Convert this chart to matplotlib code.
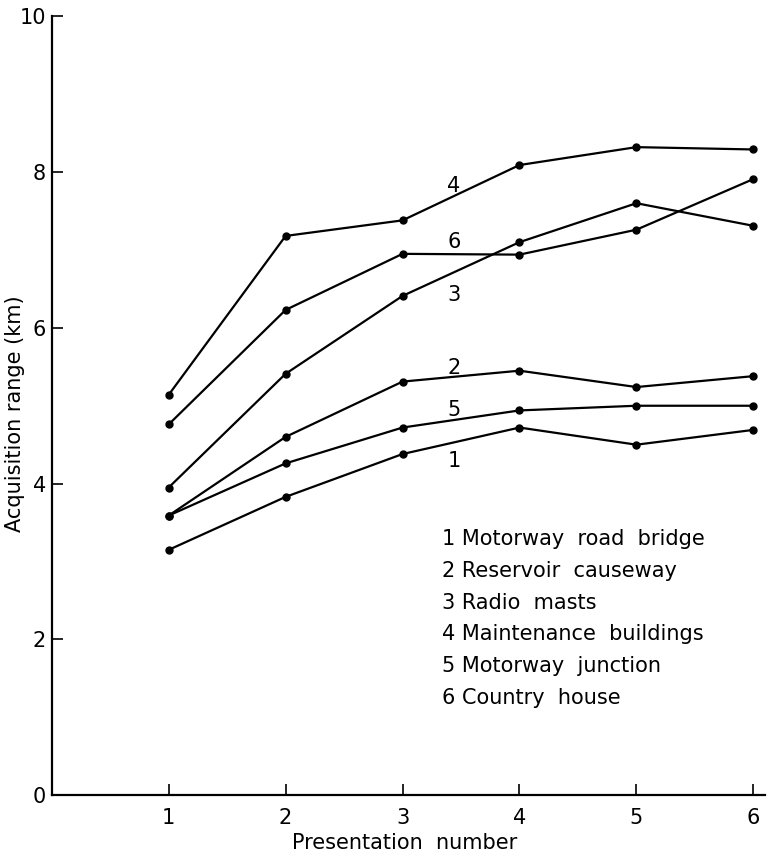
import matplotlib.pyplot as plt

# Acquisition range (km) against presentation number, one series per target
presentation = [1, 2, 3, 4, 5, 6]
motorway_bridge = [3.15, 3.83, 4.38, 4.72, 4.50, 4.69]
reservoir_causeway = [3.59, 4.60, 5.31, 5.45, 5.24, 5.38]
radio_masts = [3.95, 5.41, 6.41, 7.10, 7.60, 7.31]
maintenance_buildings = [5.14, 7.18, 7.38, 8.09, 8.32, 8.29]
motorway_junction = [3.59, 4.26, 4.72, 4.94, 5.00, 5.00]
country_house = [4.76, 6.23, 6.95, 6.94, 7.26, 7.91]

series = [motorway_bridge, reservoir_causeway, radio_masts,
          maintenance_buildings, motorway_junction, country_house]
series_names = ["Motorway  road  bridge", "Reservoir  causeway", "Radio  masts",
                "Maintenance  buildings", "Motorway  junction", "Country  house"]
# where each line's number sits, next to the presentation-3 point
label_pos = [(3.44, 4.29), (3.44, 5.48), (3.44, 6.42),
             (3.44, 7.82), (3.44, 4.94), (3.44, 7.10)]

plt.rcParams["font.family"] = ["DejaVu Sans"]
FS = 15

fig = plt.figure(figsize=(7.72, 8.56), dpi=100)
ax = fig.add_axes([0.067, 0.071, 0.924, 0.910])

for ys in series:
    ax.plot(presentation, ys, color="black", lw=1.6, marker="o", ms=5)

for i, (lx, ly) in enumerate(label_pos):
    ax.text(lx, ly, str(i + 1), ha="center", va="center", fontsize=FS)

# key of target types
for i, name in enumerate(series_names):
    ax.text(3.34, 3.29 - i * 0.408, f"{i + 1} {name}", ha="left",
            va="center", fontsize=FS)

ax.set_xlim(0, 6.1)
ax.set_ylim(0, 10)
ax.set_xticks(presentation)
ax.set_yticks([0, 2, 4, 6, 8, 10])
ax.tick_params(direction="in", length=8, width=1.2, labelsize=FS)
ax.tick_params(axis="x", pad=9)
ax.tick_params(axis="y", pad=4)
for side in ("top", "right"):
    ax.spines[side].set_visible(False)
for side in ("left", "bottom"):
    ax.spines[side].set_linewidth(1.6)

ax.set_xlabel("Presentation  number", fontsize=FS)
ax.set_ylabel("Acquisition range (km)", fontsize=FS)
ax.xaxis.set_label_coords(0.495, -0.049)
ax.yaxis.set_label_coords(-0.038, 0.49)

fig.savefig("out.png", dpi=100, facecolor="white")
